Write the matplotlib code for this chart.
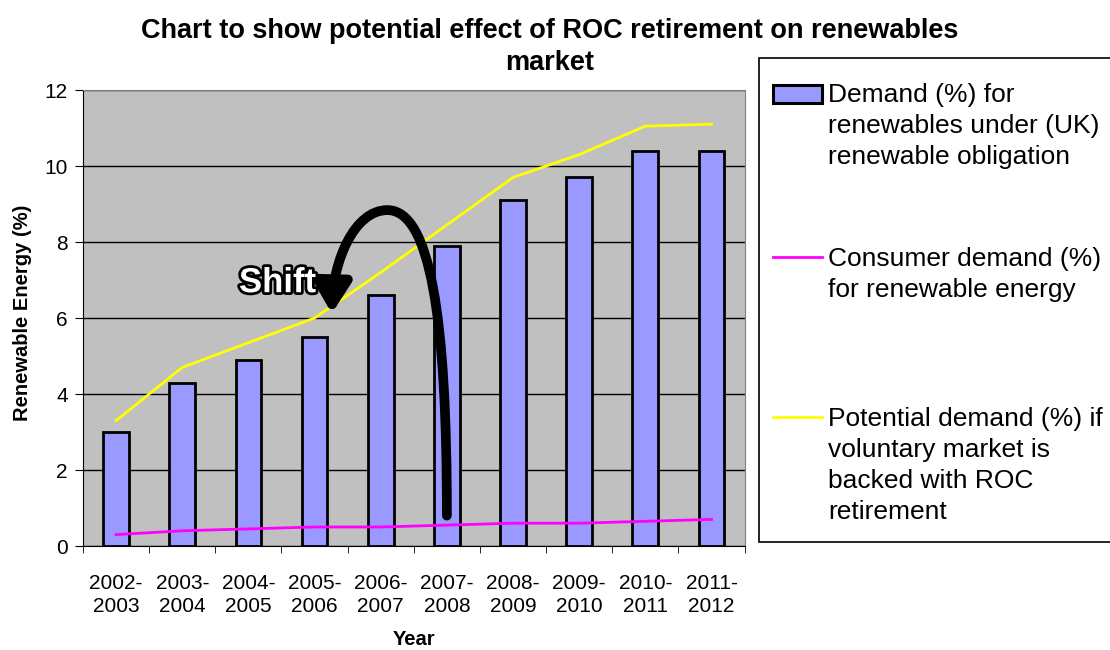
import matplotlib
matplotlib.use("Agg")
import matplotlib.pyplot as plt
import matplotlib.patheffects as pe
from matplotlib.patches import FancyArrowPatch, Rectangle
from matplotlib.lines import Line2D
from matplotlib.path import Path
import numpy as np

plt.rcParams['font.family'] = ['Liberation Sans', 'DejaVu Sans']

years = ["2002-\n2003", "2003-\n2004", "2004-\n2005", "2005-\n2006", "2006-\n2007",
         "2007-\n2008", "2008-\n2009", "2009-\n2010", "2010-\n2011", "2011-\n2012"]
obligation = [3.0, 4.3, 4.9, 5.5, 6.6, 7.9, 9.1, 9.7, 10.4, 10.4]
consumer = [0.3, 0.4, 0.45, 0.5, 0.5, 0.55, 0.6, 0.6, 0.65, 0.7]
potential = [3.3, 4.7, 5.35, 6.0, 7.2, 8.45, 9.7, 10.3, 11.05, 11.1]
labels = ["Demand (%) for\nrenewables under (UK)\nrenewable obligation",
          "Consumer demand (%)\nfor renewable energy",
          "Potential demand (%) if\nvoluntary market is\nbacked with ROC\nretirement"]

bar_color = '#9999FF'
pink = '#FF00FF'
yellow = '#FFFF00'

x = np.arange(len(years))

fig = plt.figure(figsize=(11.1, 6.5), dpi=100)
ax = fig.add_axes([0.0748, 0.16, 0.596, 0.7015])
ax.set_facecolor('#C0C0C0')

ax.bar(x, obligation, width=0.39, color=bar_color, edgecolor='black', linewidth=2, zorder=3)
ax.plot(x, consumer, color=pink, lw=2, zorder=4)
ax.plot(x, potential, color=yellow, lw=2, zorder=4)

ax.set_xlim(-0.5, len(years) - 0.5)
ax.set_ylim(0, 12)
ax.set_yticks(range(0, 13, 2))
ax.yaxis.grid(True, color='black', lw=1)
ax.set_axisbelow(True)
ax.set_xticks(x)
ax.set_xticklabels(years, fontsize=15, linespacing=1.28)
ax.tick_params(axis='x', length=0, pad=20)
ax.set_xticks(np.arange(-0.5, len(years)), minor=True)
ax.tick_params(axis='x', which='minor', length=5, color='black')
ax.tick_params(axis='y', labelsize=15, length=6, direction='out', pad=5)
for s in ['top', 'right']:
    ax.spines[s].set_color('#808080')
for s in ['left', 'bottom']:
    ax.spines[s].set_color('black')

ax.set_xlabel("Year", fontsize=14.5, fontweight='bold')
ax.xaxis.set_label_coords(0.5008, -0.205)
ax.xaxis.label.set_va('center')
ax.set_ylabel("Renewable Energy (%)", fontsize=14.5, fontweight='bold')
ax.yaxis.set_label_coords(-0.092, 0.512)
ax.yaxis.label.set_va('center')

fig.text(0.4955, 0.928, "Chart to show potential effect of ROC retirement on renewables\nmarket",
         ha='center', va='center', fontsize=19.5, fontweight='bold', linespacing=1.27)

# curved "Shift" arrow
verts = [(5.0, 0.8), (5.0, 6.0), (4.75, 8.84), (4.1, 8.84),
         (3.6, 8.84), (3.28, 7.5), (3.26, 6.12)]
codes = [Path.MOVETO, Path.CURVE4, Path.CURVE4, Path.CURVE4,
         Path.CURVE4, Path.CURVE4, Path.CURVE4]
arrow = FancyArrowPatch(path=Path(verts, codes), arrowstyle='-|>,head_length=9,head_width=5.5',
                        color='black', lw=7, zorder=6, mutation_scale=2)
ax.add_patch(arrow)
ax.text(2.44, 6.68, "Shift", fontsize=25, fontweight='bold', color='white', ha='center',
        va='baseline', zorder=7,
        path_effects=[pe.withStroke(linewidth=4, foreground='black')])

# legend box drawn by hand so the keys sit on the first text line
fig.patches.append(Rectangle((0.6838, 0.1662), 0.4, 0.7446, transform=fig.transFigure,
                             facecolor='white', edgecolor='black', lw=1.2, zorder=1))
fig.patches.append(Rectangle((773 / 1110, 1 - 103 / 650), 49 / 1110, 18 / 650,
                             transform=fig.transFigure, facecolor=bar_color,
                             edgecolor='black', lw=2.2, zorder=2))
fig.lines.append(Line2D([773 / 1110, 822 / 1110], [1 - 257 / 650] * 2, color=pink, lw=2,
                        transform=fig.transFigure, zorder=2))
fig.lines.append(Line2D([773 / 1110, 822 / 1110], [1 - 417 / 650] * 2, color=yellow, lw=2,
                        transform=fig.transFigure, zorder=2))
for lab, ytop in zip(labels, [83, 247, 407]):
    fig.text(828 / 1110, 1 - ytop / 650, lab, fontsize=19, ha='left', va='top',
             linespacing=1.37, zorder=3)

fig.savefig("out.png", dpi=100)
